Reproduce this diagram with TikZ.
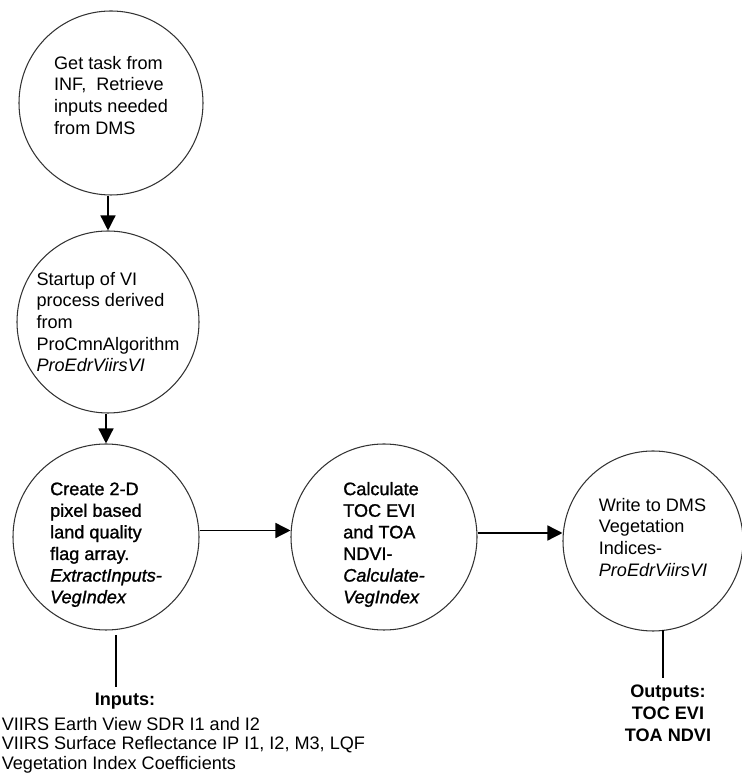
\documentclass[tikz,border=0pt]{standalone}
\usepackage{fontspec}
\setmainfont{Liberation Sans}
\newfontfamily\heavyfont[FakeBold=1.2]{Liberation Sans}
\usepackage{tikz}
\usetikzlibrary{arrows.meta}
\definecolor{bordo}{HTML}{333333}
\tikzset{
  proc/.style={draw=bordo, line width=0.6pt, circle, minimum size=#1, inner sep=0pt, align=left},
  heavy/.style={font=\fontsize{10.3}{12.3}\selectfont\heavyfont},
  flow/.style={-{Triangle[length=0.3cm, width=0.3cm]}, line width=0.8pt},
  plain/.style={line width=0.8pt}
}

\begin{document}
\begin{tikzpicture}[font=\fontsize{10.3}{12.3}\selectfont]
  \useasboundingbox (0,0) rectangle (14.84,15.56);
  % Task from INF
  \node[proc=3.68cm] (task) at (2.22, 13.50) {Get task from\\INF, \ Retrieve\\inputs needed\\from DMS\rule[-9pt]{0pt}{0pt}};
  % Startup of VI
  \node[proc=3.64cm] (startup) at (2.16, 9.12) {Startup of VI\\process derived\\from\\ProCmnAlgorithm\\\textit{ProEdrViirsVI}};
  % Quality flag array
  \node[proc=3.72cm, heavy] (flags) at (2.12, 4.82) {\rule{0pt}{16pt}Create 2-D\\pixel based\\land quality\\flag array.\\\textit{ExtractInputs-}\\\textit{VegIndex}};
  % Calculate indices
  \node[proc=3.72cm, heavy] (calc) at (7.68, 4.82) {\rule{0pt}{16pt}Calculate\\TOC EVI\\and TOA\\NDVI-\\\textit{Calculate-}\\\textit{VegIndex}};
  % Write to DMS
  \node[proc=3.60cm] (write) at (13.06, 4.74) {Write to DMS\\Vegetation\\Indices-\\\textit{ProEdrViirsVI}\rule[-4.5pt]{0pt}{0pt}};
  % Flow arrows
  \draw[flow] (task.south -| startup.north) -- (startup.north);
  \draw[flow] (startup.south -| flags.north) -- (flags.north);
  \draw[flow] ([yshift=0.13cm]flags.east) -- ([yshift=0.13cm]flags.east -| calc.west);
  \draw[flow] ([yshift=0.08cm]calc.east) -- ([yshift=0.08cm]calc.east -| write.west);
  % Inputs
  \node[font=\fontsize{10.3}{12.3}\selectfont\bfseries] (inputs) at (2.50, 1.54) {Inputs:};
  \node[font=\fontsize{10.3}{11}\selectfont, align=left, anchor=north west, inner sep=0pt] (inlist) at (0.03, 1.22) {VIIRS Earth View SDR I1 and I2\\VIIRS Surface Reflectance IP I1, I2, M3, LQF\\Vegetation Index Coefficients};
  \coordinate (intop) at (2.32, 2.86);
  \draw[plain] (intop) -- (intop |- inputs.north);
  % Outputs
  \node[font=\fontsize{10.3}{12.6}\selectfont\bfseries, align=center] (outputs) at (13.36, 1.30) {Outputs:\\TOC EVI\\TOA NDVI};
  \coordinate (outtop) at (13.26, 2.96);
  \draw[plain] (outtop) -- (outtop |- outputs.north);
\end{tikzpicture}
\end{document}
